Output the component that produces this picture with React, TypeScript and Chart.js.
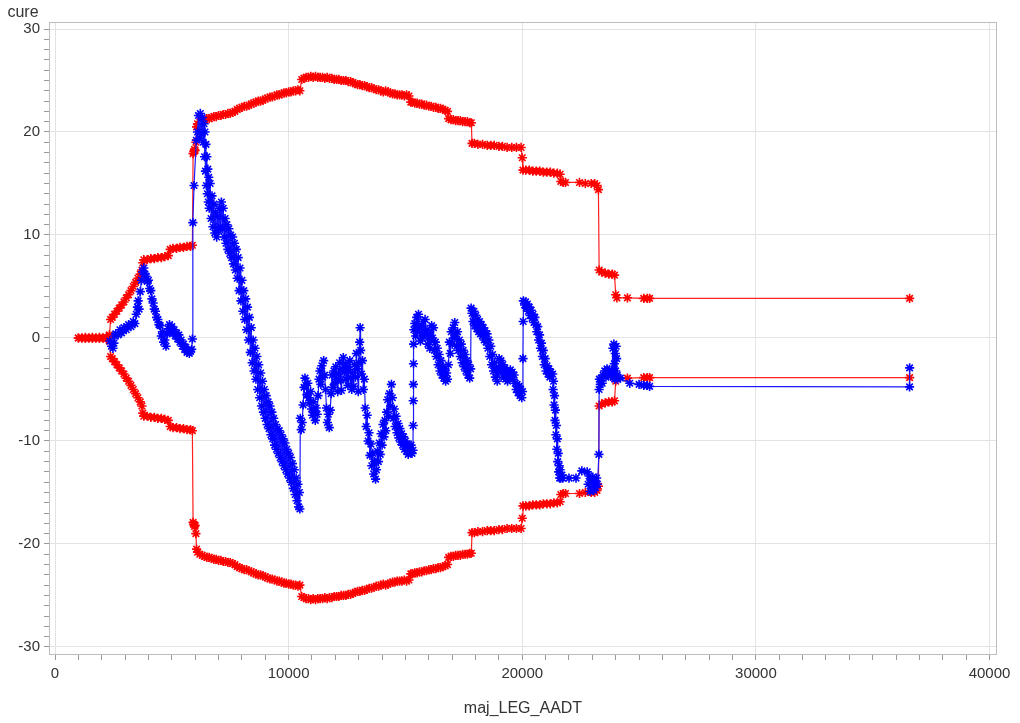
import React, { useEffect, useRef } from "react";
import { Chart, registerables } from "chart.js";

Chart.register(...registerables);

// ---------- data ----------
const xAxisTitle = "maj_LEG_AADT";
const yAxisTitle = "cure";
const xMajorTicks = [0, 10000, 20000, 30000, 40000];
const yMajorTicks = [-30, -20, -10, 0, 10, 20, 30];

const boundX = [
  1000, 1150, 1300, 1450, 1600, 1750, 1900, 2050, 2200, 2330,
  2380, 2450, 2550, 2650, 2750, 2850, 2950, 3050, 3150, 3250,
  3350, 3450, 3550, 3650, 3720, 3760, 3800, 3950, 4100, 4250,
  4400, 4550, 4700, 4850, 4930, 5050, 5200, 5350, 5500, 5650,
  5800, 5880, 5910, 5940, 5970, 6000, 6030, 6060, 6100, 6200,
  6300, 6400, 6500, 6600, 6700, 6800, 6900, 7000, 7100, 7200,
  7300, 7400, 7500, 7600, 7700, 7800, 7900, 8000, 8100, 8200,
  8300, 8400, 8500, 8600, 8700, 8800, 8900, 9000, 9100, 9200,
  9300, 9400, 9500, 9600, 9700, 9800, 9900, 10000, 10100, 10200,
  10300, 10400, 10480, 10560, 10650, 10750, 10850, 10950, 11050, 11150,
  11250, 11350, 11450, 11550, 11650, 11750, 11850, 11950, 12050, 12150,
  12250, 12350, 12450, 12550, 12650, 12750, 12850, 12950, 13050, 13150,
  13250, 13350, 13450, 13550, 13650, 13750, 13850, 13950, 14050, 14150,
  14250, 14350, 14450, 14550, 14650, 14750, 14850, 14950, 15050, 15150,
  15230, 15300, 15400, 15500, 15600, 15700, 15800, 15900, 16000, 16100,
  16200, 16300, 16400, 16500, 16600, 16700, 16800, 16850, 16950, 17050,
  17150, 17250, 17350, 17450, 17550, 17650, 17750, 17820, 17850, 17950,
  18100, 18300, 18500, 18650, 18800, 19000, 19150, 19350, 19550, 19750,
  19950, 20000, 20030, 20150, 20300, 20450, 20600, 20750, 20900, 21050,
  21200, 21350, 21500, 21620, 21650, 21750, 21850, 22450, 22700, 22950,
  23100, 23200, 23260, 23290, 23400, 23550, 23700, 23850, 23950, 24000,
  24050, 24500, 25200, 25350, 25450, 36580,
];

const upperBound = [
  0.0, 0.0, 0.05, 0.0, 0.05, 0.0, 0.05, 0.0, 0.1, 0.3,
  1.8, 2.0, 2.3, 2.6, 2.9, 3.2, 3.5, 3.9, 4.2, 4.6,
  5.0, 5.4, 5.8, 6.2, 6.6, 7.3, 7.6, 7.6, 7.7, 7.7,
  7.8, 7.8, 7.9, 8.0, 8.6, 8.7, 8.7, 8.8, 8.8, 8.9,
  8.9, 9.0, 17.9, 18.1, 18.3, 18.2, 19.0, 20.5, 20.8, 21.0,
  21.1, 21.2, 21.3, 21.3, 21.4, 21.5, 21.5, 21.6, 21.6, 21.7,
  21.7, 21.8, 21.8, 21.9, 22.0, 22.2, 22.3, 22.4, 22.5, 22.5,
  22.6, 22.7, 22.8, 22.9, 23.0, 23.0, 23.1, 23.2, 23.3, 23.4,
  23.4, 23.5, 23.6, 23.6, 23.7, 23.8, 23.8, 23.9, 23.9, 24.0,
  24.0, 24.1, 24.0, 25.1, 25.2, 25.3, 25.3, 25.4, 25.3, 25.4,
  25.3, 25.3, 25.3, 25.2, 25.3, 25.2, 25.2, 25.1, 25.1, 25.1,
  25.0, 25.0, 25.0, 24.9, 24.9, 24.8, 24.7, 24.6, 24.6, 24.5,
  24.5, 24.4, 24.3, 24.3, 24.2, 24.1, 24.1, 24.0, 23.9, 24.0,
  23.9, 23.8, 23.7, 23.7, 23.6, 23.6, 23.6, 23.5, 23.6, 23.5,
  22.9, 22.9, 22.8, 22.8, 22.7, 22.7, 22.6, 22.6, 22.5, 22.5,
  22.4, 22.4, 22.3, 22.3, 22.2, 22.1, 22.0, 21.3, 21.2, 21.2,
  21.1, 21.1, 21.1, 21.0, 21.0, 21.0, 20.9, 20.9, 18.9, 18.9,
  18.8, 18.8, 18.7, 18.7, 18.7, 18.6, 18.6, 18.5, 18.5, 18.5,
  18.5, 17.5, 16.3, 16.3, 16.3, 16.2, 16.2, 16.2, 16.1, 16.1,
  16.1, 16.0, 16.0, 15.9, 15.2, 15.1, 15.1, 15.1, 15.0, 15.0,
  15.0, 14.8, 14.4, 6.6, 6.4, 6.3, 6.2, 6.2, 6.1, 4.2,
  3.9, 3.9, 3.85, 3.85, 3.85, 3.85,
];

const lowerBound = [
  0.0, 0.0, -0.05, 0.0, -0.05, 0.0, -0.05, 0.0, -0.1, -0.3,
  -1.8, -2.0, -2.3, -2.6, -2.9, -3.2, -3.5, -3.9, -4.2, -4.6,
  -5.0, -5.4, -5.8, -6.2, -6.6, -7.3, -7.6, -7.6, -7.7, -7.7,
  -7.8, -7.8, -7.9, -8.0, -8.6, -8.7, -8.7, -8.8, -8.8, -8.9,
  -8.9, -9.0, -17.9, -18.1, -18.3, -18.2, -19.0, -20.5, -20.8, -21.0,
  -21.1, -21.2, -21.3, -21.3, -21.4, -21.5, -21.5, -21.6, -21.6, -21.7,
  -21.7, -21.8, -21.8, -21.9, -22.0, -22.2, -22.3, -22.4, -22.5, -22.5,
  -22.6, -22.7, -22.8, -22.9, -23.0, -23.0, -23.1, -23.2, -23.3, -23.4,
  -23.4, -23.5, -23.6, -23.6, -23.7, -23.8, -23.8, -23.9, -23.9, -24.0,
  -24.0, -24.1, -24.0, -25.1, -25.2, -25.3, -25.3, -25.4, -25.3, -25.4,
  -25.3, -25.3, -25.3, -25.2, -25.3, -25.2, -25.2, -25.1, -25.1, -25.1,
  -25.0, -25.0, -25.0, -24.9, -24.9, -24.8, -24.7, -24.6, -24.6, -24.5,
  -24.5, -24.4, -24.3, -24.3, -24.2, -24.1, -24.1, -24.0, -23.9, -24.0,
  -23.9, -23.8, -23.7, -23.7, -23.6, -23.6, -23.6, -23.5, -23.6, -23.5,
  -22.9, -22.9, -22.8, -22.8, -22.7, -22.7, -22.6, -22.6, -22.5, -22.5,
  -22.4, -22.4, -22.3, -22.3, -22.2, -22.1, -22.0, -21.3, -21.2, -21.2,
  -21.1, -21.1, -21.1, -21.0, -21.0, -21.0, -20.9, -20.9, -18.9, -18.9,
  -18.8, -18.8, -18.7, -18.7, -18.7, -18.6, -18.6, -18.5, -18.5, -18.5,
  -18.5, -17.5, -16.3, -16.3, -16.3, -16.2, -16.2, -16.2, -16.1, -16.1,
  -16.1, -16.0, -16.0, -15.9, -15.2, -15.1, -15.1, -15.1, -15.0, -15.0,
  -15.0, -14.8, -14.4, -6.6, -6.4, -6.3, -6.2, -6.2, -6.1, -4.2,
  -3.9, -3.9, -3.85, -3.85, -3.85, -3.85,
];

const cureX = [
  2350, 2420, 2480, 2520, 2560, 2600, 2700, 2780, 2850, 2950,
  3050, 3150, 3250, 3350, 3420, 3480, 3530, 3560, 3600, 3650,
  3700, 3750, 3800, 3850, 3900, 3950, 4000, 4050, 4100, 4150,
  4200, 4250, 4300, 4350, 4400, 4450, 4500, 4550, 4600, 4650,
  4700, 4750, 4800, 4850, 4900, 4950, 5000, 5050, 5100, 5150,
  5200, 5250, 5300, 5350, 5400, 5450, 5500, 5550, 5600, 5650,
  5700, 5750, 5800, 5850, 5880, 5900, 5950, 6050, 6100, 6140,
  6180, 6220, 6260, 6300, 6340, 6380, 6400, 6420, 6440, 6460,
  6480, 6500, 6520, 6540, 6560, 6580, 6600, 6640, 6680, 6720,
  6760, 6800, 6840, 6880, 6920, 6960, 7000, 7040, 7080, 7120,
  7160, 7200, 7240, 7280, 7320, 7360, 7400, 7440, 7480, 7520,
  7560, 7600, 7640, 7680, 7720, 7760, 7800, 7840, 7880, 7920,
  7960, 8000, 8040, 8080, 8120, 8160, 8200, 8240, 8280, 8320,
  8360, 8400, 8440, 8480, 8520, 8560, 8600, 8640, 8680, 8720,
  8760, 8800, 8840, 8880, 8920, 8960, 9000, 9040, 9080, 9120,
  9160, 9200, 9240, 9280, 9320, 9360, 9400, 9440, 9480, 9520,
  9560, 9600, 9640, 9680, 9720, 9760, 9800, 9840, 9880, 9920,
  9960, 10000, 10040, 10080, 10120, 10160, 10200, 10240, 10280, 10320,
  10360, 10400, 10430, 10460, 10480, 10500, 10540, 10580, 10620, 10660,
  10700, 10740, 10780, 10820, 10860, 10900, 10940, 10980, 11020, 11060,
  11100, 11140, 11180, 11220, 11260, 11300, 11340, 11380, 11420, 11460,
  11500, 11540, 11580, 11620, 11660, 11700, 11740, 11780, 11820, 11860,
  11900, 11940, 11980, 12020, 12060, 12100, 12140, 12180, 12220, 12260,
  12300, 12340, 12380, 12420, 12460, 12500, 12540, 12580, 12620, 12660,
  12700, 12740, 12780, 12820, 12860, 12900, 12940, 12980, 13000, 13040,
  13060, 13080, 13120, 13160, 13200, 13240, 13280, 13320, 13360, 13400,
  13440, 13480, 13520, 13560, 13600, 13640, 13680, 13720, 13760, 13800,
  13840, 13880, 13920, 13960, 14000, 14040, 14080, 14120, 14160, 14200,
  14240, 14280, 14320, 14360, 14400, 14440, 14480, 14520, 14560, 14600,
  14640, 14680, 14720, 14760, 14800, 14840, 14880, 14920, 14960, 15000,
  15040, 15080, 15120, 15160, 15200, 15240, 15280, 15320, 15330, 15335,
  15340, 15345, 15350, 15360, 15400, 15440, 15480, 15520, 15560, 15600,
  15640, 15680, 15720, 15760, 15800, 15840, 15880, 15920, 15960, 16000,
  16040, 16080, 16120, 16160, 16200, 16240, 16280, 16320, 16360, 16400,
  16440, 16480, 16520, 16560, 16600, 16640, 16680, 16720, 16760, 16800,
  16840, 16880, 16920, 16960, 17000, 17040, 17080, 17110, 17150, 17190,
  17230, 17270, 17310, 17350, 17390, 17430, 17470, 17510, 17550, 17590,
  17630, 17670, 17710, 17750, 17790, 17810, 17850, 17890, 17930, 17970,
  18010, 18050, 18090, 18130, 18170, 18210, 18250, 18290, 18330, 18370,
  18410, 18450, 18490, 18530, 18570, 18610, 18650, 18690, 18730, 18770,
  18810, 18850, 18890, 18930, 18970, 19010, 19050, 19090, 19130, 19170,
  19210, 19250, 19290, 19330, 19370, 19410, 19450, 19490, 19530, 19570,
  19610, 19650, 19700, 19740, 19780, 19820, 19860, 19900, 19940, 19980,
  20010, 20030, 20040, 20050, 20100, 20140, 20180, 20220, 20260, 20300,
  20340, 20380, 20420, 20460, 20500, 20540, 20580, 20620, 20660, 20700,
  20740, 20780, 20820, 20860, 20900, 20940, 20980, 21020, 21060, 21100,
  21140, 21180, 21220, 21300, 21320, 21340, 21360, 21380, 21400, 21420,
  21440, 21460, 21480, 21500, 21520, 21540, 21560, 21580, 21600, 21620,
  21650, 21700, 21730, 22000, 22300, 22550, 22780, 22820, 22860, 22900,
  22940, 22980, 23020, 23060, 23100, 23140, 23180, 23220, 23280, 23290,
  23300, 23340, 23380, 23420, 23460, 23530, 23580, 23630, 23680, 23730,
  23780, 23830, 23880, 23900, 23920, 23940, 23960, 23980, 24000, 24020,
  24040, 24060, 24080, 24200, 24600, 25000, 25200, 25350, 25450, 36577,
  36580,
];

const cureY = [
  -0.3, -0.8, -1.0, -0.5, 0.2, 0.4, 0.3, 0.8, 0.5, 1.0,
  0.8, 1.3, 1.1, 1.6, 1.4, 2.3, 3.0, 3.6, 2.8, 4.5,
  5.6, 6.4, 6.8, 6.2, 6.0, 5.5, 5.6, 4.8, 4.6, 3.8,
  3.4, 2.8, 2.6, 2.0, 1.8, 1.3, 1.2, 0.2, 0.6, -0.4,
  -0.2, -0.8, 0.4, 0.9, 1.3, 0.7, 1.1, 0.5, 0.8, 0.2,
  0.5, -0.1, 0.3, -0.4, -0.2, -0.8, -0.6, -1.1, -0.9, -1.4,
  -1.2, -1.5, -1.3, -1.1, -0.1, 11.2, 14.8, 19.2, 20.0, 21.6,
  19.4, 21.8, 19.8, 21.4, 19.0, 20.8, 17.6, 20.0, 16.2, 18.8,
  14.8, 17.6, 14.0, 16.4, 13.2, 15.6, 12.6, 15.0, 11.6, 13.8,
  10.8, 13.0, 10.2, 12.2, 9.8, 11.8, 10.4, 12.6, 10.8, 13.2,
  10.6, 12.6, 9.8, 11.6, 9.2, 11.0, 8.6, 10.6, 8.2, 10.0,
  7.8, 9.8, 7.2, 9.2, 6.6, 8.6, 5.8, 7.8, 4.6, 6.8,
  3.6, 5.6, 2.6, 4.6, 1.8, 3.8, 0.8, 3.0, -0.2, 2.0,
  -1.4, 1.0, -2.4, -0.2, -3.2, -1.0, -4.0, -1.8, -5.0, -2.6,
  -5.8, -3.4, -6.6, -4.2, -7.2, -5.0, -7.8, -5.6, -8.4, -6.2,
  -8.8, -6.6, -9.4, -7.2, -9.8, -7.8, -10.4, -8.4, -10.8, -8.8,
  -11.2, -9.0, -11.6, -9.4, -12.0, -9.8, -12.4, -10.2, -12.8, -10.8,
  -13.2, -11.2, -13.6, -11.6, -14.0, -12.2, -14.6, -12.8, -15.2, -13.6,
  -15.8, -14.2, -16.4, -15.0, -16.6, -7.8, -8.9, -8.2, -6.5, -4.8,
  -3.9, -4.6, -5.5, -4.4, -5.8, -6.3, -5.2, -6.9, -7.5, -6.2,
  -7.2, -8.0, -6.8, -7.4, -5.6, -4.0, -3.2, -4.5, -2.7, -3.8,
  -2.2, -3.6, -5.0, -6.8, -8.2, -7.4, -8.7, -7.0, -5.4, -3.6,
  -4.8, -3.2, -4.4, -2.8, -4.0, -5.2, -3.5, -2.4, -4.1, -5.1,
  -3.0, -1.9, -3.3, -2.5, -4.0, -2.8, -4.6, -3.1, -2.2, -3.9,
  -5.0, -3.4, -4.7, -2.6, -3.8, -1.5, -3.0, -5.2, -2.4, -0.4,
  1.0, -1.2, -3.5, -2.2, -5.0, -4.0, -6.8, -8.6, -7.5, -10.0,
  -9.2, -11.4, -10.3, -12.4, -11.2, -13.2, -12.0, -13.7, -12.8, -11.0,
  -12.0, -10.2, -11.3, -9.3, -10.4, -8.4, -9.6, -8.0, -9.0, -7.2,
  -6.0, -7.6, -5.4, -6.6, -4.5, -5.8, -7.8, -6.9, -8.6, -7.6,
  -9.2, -8.3, -9.7, -8.8, -10.1, -9.3, -10.4, -9.6, -10.8, -10.0,
  -11.0, -10.3, -11.3, -10.6, -11.1, -10.4, -11.2, -10.9, -8.5, -6.1,
  -4.5, -2.5, -0.6, 0.8, 1.4, 0.2, 2.0, 0.6, 2.3, 1.0,
  -0.3, 1.2, 0.0, 1.6, 0.4, 1.8, 0.2, 0.8, -0.6, 0.5,
  -1.0, -0.2, 1.2, 0.0, 1.0, -1.2, -0.4, -1.8, -1.0, -2.6,
  -1.6, -3.2, -2.2, -3.6, -2.8, -3.9, -3.0, -4.2, -3.4, -4.0,
  -2.6, -0.4, -1.5, 0.6, -0.6, 1.0, 0.0, 1.5, 0.4, -0.8,
  0.6, -1.2, -0.2, -1.8, -0.6, -2.4, -1.2, -2.8, -1.6, -3.2,
  -2.2, -3.6, -2.6, -3.9, -3.0, 2.9, 2.4, 1.6, 2.6, 1.2,
  2.2, 0.9, 1.8, 0.6, 1.6, 0.4, 1.3, 0.2, 1.0, -0.2,
  0.7, -0.4, 0.4, -1.0, -0.2, -1.8, -0.8, -2.6, -1.6, -3.2,
  -2.4, -3.8, -2.9, -4.2, -3.3, -2.0, -3.0, -2.2, -3.4, -2.6,
  -3.8, -2.9, -4.0, -3.2, -4.2, -3.4, -3.9, -3.1, -3.8, -3.3,
  -4.0, -3.6, -4.4, -5.0, -4.5, -5.3, -4.7, -5.6, -5.0, -5.8,
  -5.2, -2.0, 1.6, 3.6, 3.2, 3.5, 2.9, 3.3, 2.6, 3.0,
  2.2, 2.7, 1.9, 2.3, 1.5, 2.0, 1.3, 0.6, 1.1, -0.2,
  0.3, -1.0, -0.5, -1.8, -1.2, -2.6, -2.0, -3.2, -2.7, -3.5,
  -3.0, -3.8, -3.3, -3.5, -5.0, -4.2, -6.5, -5.6, -8.0, -7.0,
  -9.4, -8.5, -10.8, -9.8, -12.0, -11.2, -13.0, -12.4, -13.6, -12.8,
  -13.6, -13.3, -13.6, -13.6, -13.6, -12.9, -13.0, -14.2, -13.4, -14.9,
  -13.8, -14.6, -13.5, -14.8, -14.0, -14.5, -13.6, -14.2, -11.3, -5.0,
  -4.0, -4.5, -3.9, -4.4, -3.6, -3.2, -3.8, -3.0, -3.6, -3.1,
  -3.7, -3.3, -1.0, -3.8, -0.6, -2.5, -4.0, -1.5, -3.2, -0.8,
  -2.0, -3.6, -4.0, -3.9, -4.4, -4.5, -4.6, -4.6, -4.7, -4.75,
  -2.9,
];

// ---------- helpers ----------
const FONT = "'Liberation Sans', Arial, sans-serif";
const toPoints = (xs: number[], ys: number[]) =>
  xs.map((x, i) => ({ x, y: ys[i] }));

const range = (a: number, b: number, step: number) => {
  const out: number[] = [];
  for (let v = a; v <= b; v += step) out.push(v);
  return out;
};

const framePlugin = {
  id: "frame",
  beforeDatasetsDraw(chart: any) {
    const { ctx, chartArea } = chart;
    ctx.save();
    ctx.strokeStyle = "#bdbdbd";
    ctx.lineWidth = 1;
    ctx.strokeRect(
      Math.round(chartArea.left) + 0.5,
      Math.round(chartArea.top) + 0.5,
      Math.round(chartArea.right - chartArea.left) - 1,
      Math.round(chartArea.bottom - chartArea.top) - 1
    );
    ctx.restore();
  },
  afterDraw(chart: any) {
    const { ctx, chartArea } = chart;
    ctx.save();
    ctx.fillStyle = "#333333";
    ctx.font = `16px ${FONT}`;
    ctx.textAlign = "center";
    ctx.textBaseline = "alphabetic";
    ctx.fillText(yAxisTitle, 23, 17);
    ctx.fillText(xAxisTitle, (chartArea.left + chartArea.right) / 2, 713);
    ctx.restore();
  },
};

export default function App() {
  const canvasRef = useRef<HTMLCanvasElement | null>(null);

  useEffect(() => {
    const canvas = canvasRef.current;
    if (!canvas) return;

    const common = {
      showLine: true,
      borderWidth: 1.2,
      pointStyle: "star",
      pointRadius: 4.6,
      pointHoverRadius: 4.6,
      pointBorderWidth: 1.6,
      tension: 0,
      fill: false,
    };

    const chart = new Chart(canvas, {
      type: "scatter",
      data: {
        datasets: [
          {
            ...common,
            label: "cure",
            data: toPoints(cureX, cureY),
            borderColor: "#1a1aff",
            backgroundColor: "#0000ff",
            pointBorderColor: "#0000ff",
          },
          {
            ...common,
            label: "upper",
            data: toPoints(boundX, upperBound),
            borderColor: "#ff2020",
            backgroundColor: "#ff0000",
            pointBorderColor: "#ff0000",
          },
          {
            ...common,
            label: "lower",
            data: toPoints(boundX, lowerBound),
            borderColor: "#ff2020",
            backgroundColor: "#ff0000",
            pointBorderColor: "#ff0000",
          },
        ] as any,
      },
      options: {
        responsive: false,
        animation: false,
        events: [],
        layout: { padding: { top: 22, right: 23, left: 0, bottom: 0 } },
        plugins: {
          legend: { display: false },
          tooltip: { enabled: false },
          title: { display: false },
        },
        scales: {
          x: {
            type: "linear",
            min: -257,
            max: 40320,
            afterBuildTicks: (s: any) => {
              s.ticks = range(0, 40000, 1000).map((v) => ({ value: v }));
            },
            afterFit: (s: any) => {
              s.height = 68;
            },
            ticks: {
              autoSkip: false,
              maxRotation: 0,
              minRotation: 0,
              padding: 5,
              color: "#333333",
              font: { family: FONT, size: 15 },
              callback: (v: any) =>
                xMajorTicks.includes(Number(v)) ? String(v) : "",
            },
            grid: {
              color: (c: any) =>
                c.tick && xMajorTicks.includes(c.tick.value)
                  ? "#e3e3e3"
                  : "rgba(0,0,0,0)",
              tickColor: "#9a9a9a",
              tickLength: 5,
              lineWidth: 1,
            },
            border: { display: false },
          },
          y: {
            type: "linear",
            min: -30.78,
            max: 30.68,
            afterBuildTicks: (s: any) => {
              s.ticks = range(-30, 30, 1).map((v) => ({ value: v }));
            },
            afterFit: (s: any) => {
              s.width = 49;
            },
            ticks: {
              autoSkip: false,
              padding: 4,
              color: "#333333",
              font: { family: FONT, size: 15 },
              callback: (v: any) =>
                yMajorTicks.includes(Number(v)) ? String(v) : "",
            },
            grid: {
              color: (c: any) =>
                c.tick && yMajorTicks.includes(c.tick.value)
                  ? "#e3e3e3"
                  : "rgba(0,0,0,0)",
              tickColor: "#9a9a9a",
              tickLength: 5,
              lineWidth: 1,
            },
            border: { display: false },
          },
        },
      } as any,
      plugins: [framePlugin],
    });

    return () => {
      chart.destroy();
    };
  }, []);

  return (
    <div
      style={{
        position: "fixed",
        left: 0,
        top: 0,
        width: 1020,
        height: 723,
        background: "#ffffff",
      }}
    >
      <canvas ref={canvasRef} width={1020} height={723} />
    </div>
  );
}
